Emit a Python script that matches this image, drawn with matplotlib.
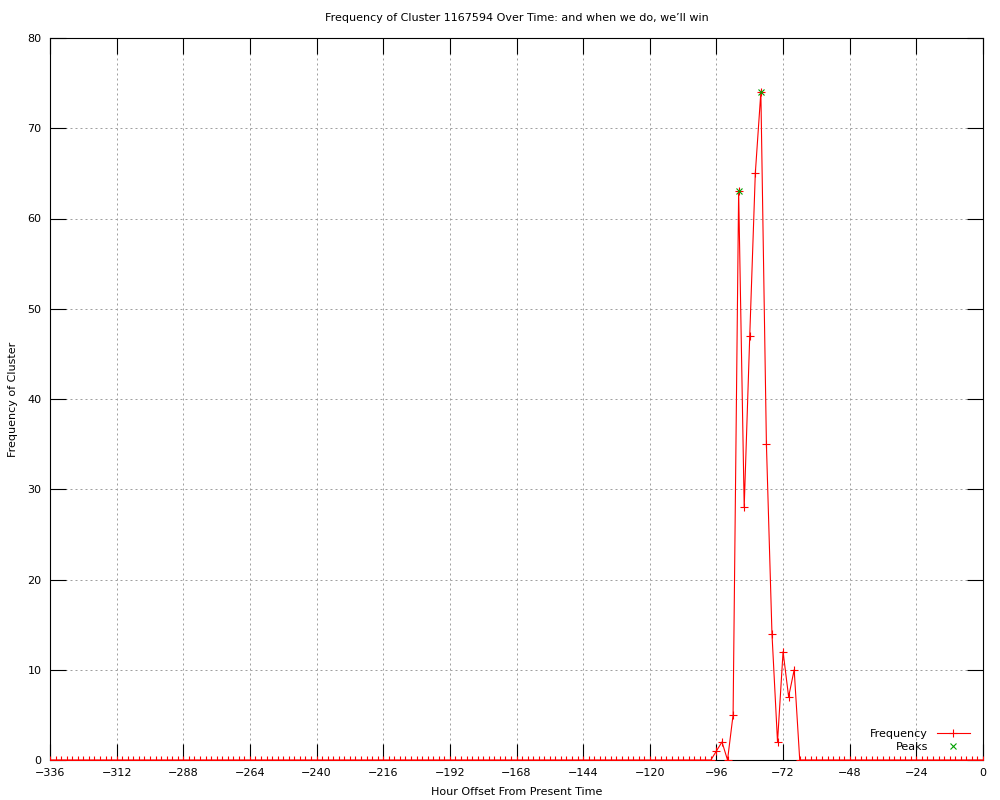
import numpy as np
import matplotlib
matplotlib.use("Agg")
import matplotlib.pyplot as plt
from matplotlib.lines import Line2D

# hours, every 2 h from -336 to 0
hours = np.arange(-336, 1, 2)

# non-zero frequencies
busy_hours = [-96, -94, -90, -88, -86, -84, -82, -80, -78, -76, -74, -72, -70, -68]
busy_vals = [1, 2, 5, 63, 28, 47, 65, 74, 35, 14, 2, 12, 7, 10]

freq = np.zeros(len(hours))
for h, v in zip(busy_hours, busy_vals):
    freq[hours == h] = v

peak_hours = [-88, -80]
peak_vals = [63, 74]

plt.rcParams['font.family'] = ['DejaVu Sans']
plt.rcParams['font.size'] = 8

fig = plt.figure(figsize=(10, 8), dpi=100)
ax = fig.add_axes([0.05, 0.05, 0.933, 0.9025])

ax.plot(hours, freq, color='red', lw=0.8, marker='+', ms=6, mew=0.8, zorder=3)
ax.plot(peak_hours, peak_vals, ls='none', color='#00a000', marker='x', ms=5, mew=0.8, zorder=4)

ax.set_xlim(-336, 0)
ax.set_ylim(0, 80)
ax.set_xticks(np.arange(-336, 1, 24))
ax.set_yticks(np.arange(0, 81, 10))
ax.tick_params(direction='in', length=11.5, width=0.8, top=True, right=True,
               labelsize=8, pad=6)
ax.grid(True, color='#a0a0a0', lw=0.72, ls=(0, (2, 3)))
ax.set_axisbelow(True)
for s in ax.spines.values():
    s.set_linewidth(0.8)

ax.set_title("Frequency of Cluster 1167594 Over Time: and when we do, we\u2019ll win",
             fontsize=8, pad=12)
ax.set_xlabel("Hour Offset From Present Time", fontsize=8, labelpad=6)
ax.set_ylabel("Frequency of Cluster", fontsize=8, labelpad=7)

handles = [Line2D([], [], color='red', lw=0.8, marker='+', ms=6, mew=0.8),
           Line2D([], [], ls='none', color='#00a000', marker='x', ms=5, mew=0.8)]
ax.legend(handles, ['Frequency', 'Peaks'], loc='lower right', markerfirst=False,
          frameon=False, fontsize=8, handlelength=3, labelspacing=0.3,
          borderaxespad=0.3, bbox_to_anchor=(0.9945, 0.0))

fig.savefig('out.png', dpi=100)
